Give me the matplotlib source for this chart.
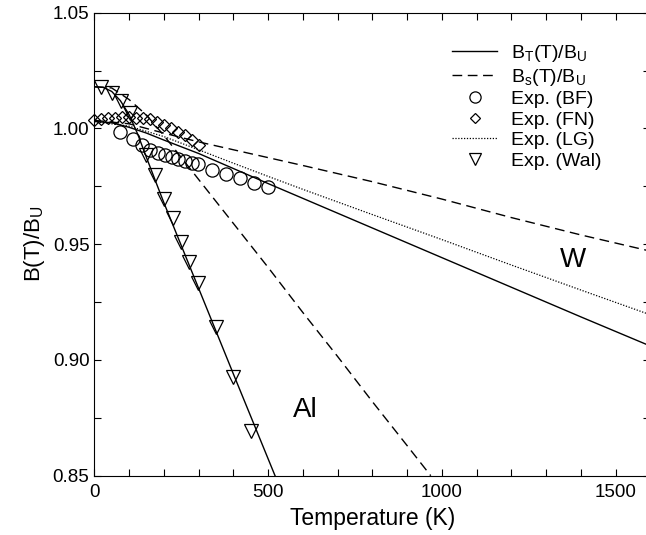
import numpy as np
import matplotlib
matplotlib.use("Agg")
import matplotlib.pyplot as plt
from matplotlib.ticker import MultipleLocator, FormatStrFormatter
from matplotlib.legend_handler import HandlerLine2D

plt.rcParams['font.family'] = ['Liberation Sans', 'DejaVu Sans']
plt.rcParams['mathtext.fontset'] = 'custom'
plt.rcParams['mathtext.rm'] = 'Liberation Sans'

# --- data ---
# W, B_T(T)/B_U (solid)
w_t_T = [0, 50, 100, 150, 200, 300, 400, 500, 600, 800, 1000, 1200, 1400, 1600]
w_t_B = [1.003, 1.0025, 1.0005, 0.998, 0.995, 0.9892, 0.9827, 0.9762, 0.9698, 0.957,
         0.9442, 0.9314, 0.9186, 0.906]
# W, B_s(T)/B_U (dashed)
w_s_T = [0, 100, 200, 300, 400, 500, 600, 800, 1000, 1200, 1400, 1600]
w_s_B = [1.0035, 1.002, 0.998, 0.9942, 0.9908, 0.9874, 0.9840, 0.9770, 0.9695,
         0.9615, 0.954, 0.947]
# W, LG (dotted)
lg_T = [0, 100, 200, 300, 400, 500, 600, 800, 1000, 1200, 1400, 1600]
lg_B = [1.003, 1.001, 0.9965, 0.9908, 0.985, 0.9793, 0.9737, 0.9628, 0.9520,
        0.9410, 0.9302, 0.9195]
# Al, B_T(T)/B_U (solid)
al_t_T = [0, 25, 50, 75, 100, 125, 150, 175, 200, 300, 400, 520]
al_t_B = [1.018, 1.0178, 1.016, 1.012, 1.006, 0.9975, 0.9875, 0.9777, 0.968,
          0.931, 0.894, 0.850]
# Al, B_s(T)/B_U (dashed)
al_s_T = [0, 50, 100, 150, 200, 300, 400, 500, 600, 700, 800, 900, 968]
al_s_B = [1.018, 1.0175, 1.0125, 1.0058, 0.997, 0.978, 0.959, 0.940, 0.9205,
          0.9015, 0.882, 0.863, 0.850]
# experiments
bf_T = [74, 112, 136, 160, 184, 203, 223, 242, 261, 280, 299, 338, 379, 419, 459, 501]
bf_B = [0.9986, 0.9953, 0.9929, 0.9907, 0.9893, 0.9884, 0.9875, 0.9867, 0.9858,
        0.9852, 0.9846, 0.9821, 0.9803, 0.9785, 0.9766, 0.9746]
fn_T = [0, 20, 40, 60, 80, 100, 120, 140, 160, 180, 200, 220, 240, 260, 280, 300]
fn_B = [1.0035, 1.0042, 1.0045, 1.0047, 1.0048, 1.0048, 1.0047, 1.0045, 1.0040,
        1.0030, 1.0015, 1.0002, 0.9985, 0.9970, 0.9950, 0.9928]
wal_T = [20, 50, 78, 102, 148, 175, 201, 225, 249, 273, 299, 349, 400, 452]
wal_B = [1.018, 1.0155, 1.0118, 1.0068, 0.9885, 0.9800, 0.9694, 0.9612, 0.9510,
         0.9424, 0.9334, 0.9144, 0.8925, 0.8694]


class RightMarker(HandlerLine2D):
    # put the single legend marker at the right end of the handle
    def get_xdata(self, legend, xdescent, ydescent, width, height, fontsize):
        xd, xm = super().get_xdata(legend, xdescent, ydescent, width, height, fontsize)
        return xd, np.array([-xdescent + width - 0.3 * fontsize])


fig = plt.figure(figsize=(6.46, 5.35), dpi=100)
ax = fig.add_axes([94.3 / 646, 59.3 / 535, 556.1 / 646, 463.0 / 535])

lw = 1.0
h1, = ax.plot(w_t_T, w_t_B, 'k-', lw=lw)
ax.plot(al_t_T, al_t_B, 'k-', lw=lw)
h2, = ax.plot(w_s_T, w_s_B, 'k-', lw=lw, dashes=(7, 4))
ax.plot(al_s_T, al_s_B, 'k-', lw=lw, dashes=(7, 4))
h5, = ax.plot(lg_T, lg_B, 'k-', lw=0.9, dashes=(1, 1.3))
h3, = ax.plot(bf_T, bf_B, 'o', ms=9.5, mfc='none', mec='k', mew=0.9)
h4, = ax.plot(fn_T, fn_B, 'D', ms=6.5, mfc='none', mec='k', mew=0.9, clip_on=False)
h6, = ax.plot(wal_T, wal_B, 'v', ms=10, mfc='none', mec='k', mew=0.9)

ax.text(1377, 0.9432, 'W', fontsize=20, ha='center', va='center')
ax.text(606, 0.8784, 'Al', fontsize=20, ha='center', va='center')

ax.set_xlim(0, 1600)
ax.set_ylim(0.85, 1.05)
ax.xaxis.set_major_locator(MultipleLocator(500))
ax.xaxis.set_minor_locator(MultipleLocator(100))
ax.yaxis.set_major_locator(MultipleLocator(0.05))
ax.yaxis.set_minor_locator(MultipleLocator(0.025))
ax.yaxis.set_major_formatter(FormatStrFormatter('%.2f'))
ax.tick_params(which='both', direction='in', top=True, right=True, length=5,
               width=0.8, labelsize=13.5)
ax.tick_params(axis='x', pad=6)
ax.set_xlabel('Temperature (K)', fontsize=16.5)
ax.set_ylabel(r'B(T)/B$\mathregular{_U}$', fontsize=16)

hm = RightMarker(numpoints=1)
leg = ax.legend([h1, h2, h3, h4, h5, h6],
                [r'B$\mathregular{_T}$(T)/B$\mathregular{_U}$',
                 r'B$\mathregular{_s}$(T)/B$\mathregular{_U}$',
                 'Exp. (BF)', 'Exp. (FN)', 'Exp. (LG)', 'Exp. (Wal)'],
                handler_map={h3: hm, h4: hm, h6: hm},
                loc='upper right', bbox_to_anchor=(611 / 646, 1 - 33 / 535),
                bbox_transform=fig.transFigure, frameon=False, fontsize=14,
                handlelength=2.3, handletextpad=0.7, labelspacing=0.15,
                borderpad=0, markerscale=0.85)

fig.savefig('out.png', dpi=100)
